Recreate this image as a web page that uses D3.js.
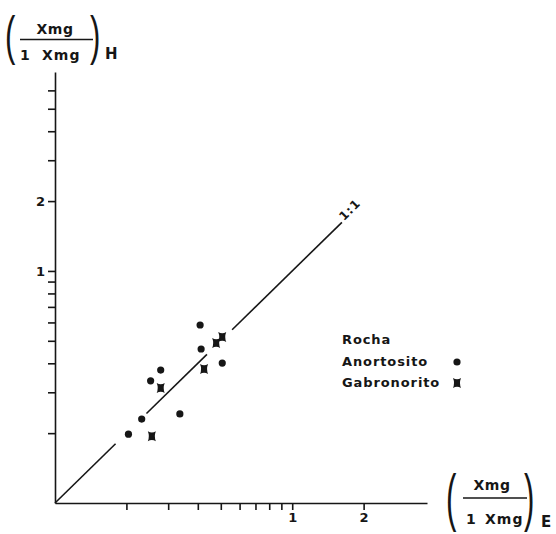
<!DOCTYPE html>
<html>
<head>
<meta charset="utf-8">
<script src="https://cdn.jsdelivr.net/npm/d3@7"></script>
<style>
  body { margin: 0; background: #fff; }
  svg { display: block; }
</style>
</head>
<body>
<svg id="chart"></svg>
<script>
// tick values on both log axes (only 1 and 2 get a label)
const xTicks = [0.2, 0.3, 0.4, 0.5, 0.6, 0.7, 0.8, 0.9, 1, 2];
const yTicks = [0.2, 0.3, 0.4, 0.5, 0.6, 0.7, 0.8, 0.9, 1, 2, 3, 4, 5, 6];
const labeledTicks = [1, 2];

// (Xmg/(1-Xmg))E vs (Xmg/(1-Xmg))H
const anortositoX = [0.409, 0.413, 0.507, 0.279, 0.253, 0.336, 0.232, 0.204];
const anortositoY = [0.585, 0.461, 0.401, 0.374, 0.336, 0.242, 0.230, 0.198];
const gabronoritoX = [0.478, 0.507, 0.425, 0.279, 0.256];
const gabronoritoY = [0.489, 0.519, 0.378, 0.313, 0.194];

// pieces of the 1:1 line (it is broken around the points)
const oneToOneSegments = [[0.1, 0.18], [0.243, 0.437], [0.558, 1.62]];

const legendTitle = "Rocha";
const legendLabels = ["Anortosito", "Gabronorito"];

const width = 556, height = 534;
const ink = "#161616";

const svg = d3.select("#chart")
  .attr("width", width)
  .attr("height", height)
  .attr("font-family", "DejaVu Sans, sans-serif")
  .attr("font-weight", "bold")
  .attr("fill", ink);

const x = d3.scaleLog().domain([0.1, 3.7]).range([55, 427]);
const y = d3.scaleLog().domain([0.1, 7.2]).range([503, 72]);

const fmt = (d) => (labeledTicks.includes(d) ? d : "");

// axes
const xAxis = svg.append("g")
  .attr("transform", `translate(0 ${y(0.1)})`)
  .call(d3.axisBottom(x).tickValues(xTicks).tickFormat(fmt).tickSize(7).tickSizeOuter(0));
const yAxis = svg.append("g")
  .attr("transform", `translate(${x(0.1)} 0)`)
  .call(d3.axisLeft(y).tickValues(yTicks).tickFormat(fmt).tickSize(7).tickSizeOuter(0));

[xAxis, yAxis].forEach((a) => {
  a.attr("font-family", "DejaVu Sans").attr("font-size", 13);
  a.selectAll("path, line").attr("stroke", ink).attr("stroke-width", 1.6);
  a.selectAll("text").attr("fill", ink);
});

// 1:1 line
const line = d3.line().x((d) => x(d)).y((d) => y(d));
svg.append("g")
  .selectAll("path")
  .data(oneToOneSegments)
  .join("path")
  .attr("d", (d) => line(d))
  .attr("fill", "none")
  .attr("stroke", ink)
  .attr("stroke-width", 1.6);

const lastV = oneToOneSegments[oneToOneSegments.length - 1][1];
svg.append("text")
  .attr("transform", `translate(${x(lastV) + 2} ${y(lastV) - 1}) rotate(-45)`)
  .attr("font-size", 12)
  .attr("letter-spacing", 1)
  .text("1:1");

// markers
const starPath = "M-4,-5 Q0,-2.6 4,-5 Q2,0 4,5 Q0,2.6 -4,5 Q-2,0 -4,-5 Z";

svg.append("g")
  .selectAll("circle")
  .data(d3.range(anortositoX.length))
  .join("circle")
  .attr("cx", (i) => x(anortositoX[i]))
  .attr("cy", (i) => y(anortositoY[i]))
  .attr("r", 3.6)
  .attr("fill", ink);

svg.append("g")
  .selectAll("path")
  .data(d3.range(gabronoritoX.length))
  .join("path")
  .attr("transform", (i) => `translate(${x(gabronoritoX[i])} ${y(gabronoritoY[i])})`)
  .attr("d", starPath)
  .attr("fill", ink);

// legend
const legend = svg.append("g").attr("font-size", 13).attr("letter-spacing", 0.9);
legend.append("text").attr("x", 342).attr("y", 344).text(legendTitle);
legendLabels.forEach((lab, i) => {
  const ly = 366 + i * 21;
  legend.append("text").attr("x", 342).attr("y", ly).text(lab);
  if (i === 0) {
    legend.append("circle").attr("cx", 457).attr("cy", ly - 4).attr("r", 3.6).attr("fill", ink);
  } else {
    legend.append("path").attr("transform", `translate(457 ${ly - 4})`).attr("d", starPath).attr("fill", ink);
  }
});

// axis titles: (Xmg / 1 Xmg) with a subscript
function ratioLabel(g, o) {
  const paren = (px, ch) => g.append("text")
    .attr("transform", `translate(${px} ${o.pb}) scale(1.2 ${o.ps})`)
    .attr("font-family", "Liberation Sans")
    .attr("font-size", 26).attr("font-weight", "normal").text(ch);
  paren(o.lx, "(");
  paren(o.rx, ")");
  g.append("text").attr("x", o.cx).attr("y", o.top).attr("text-anchor", "middle")
    .attr("font-size", 14).attr("letter-spacing", 0.6).text("Xmg");
  g.append("line").attr("x1", o.f1).attr("x2", o.f2).attr("y1", o.fy).attr("y2", o.fy)
    .attr("stroke", ink).attr("stroke-width", 1.6);
  g.append("text").attr("x", o.one).attr("y", o.bot).attr("font-size", 14).text("1");
  g.append("text").attr("x", o.xb).attr("y", o.bot).attr("font-size", 14)
    .attr("letter-spacing", 1).text("Xmg");
  g.append("text").attr("x", o.sx).attr("y", o.sy).attr("font-size", 15).text(o.sub);
}

ratioLabel(svg.append("g"), {
  lx: 5, rx: 90, pb: 53.5, ps: 2.1, cx: 55, top: 33.5, f1: 20, f2: 93, fy: 39.5,
  one: 20, xb: 42, bot: 60, sx: 105, sy: 58.5, sub: "H",
});
ratioLabel(svg.append("g"), {
  lx: 446, rx: 524, pb: 519, ps: 2.4, cx: 492, top: 490, f1: 463, f2: 527, fy: 498,
  one: 466, xb: 485, bot: 524, sx: 541, sy: 527, sub: "E",
});
</script>
</body>
</html>
